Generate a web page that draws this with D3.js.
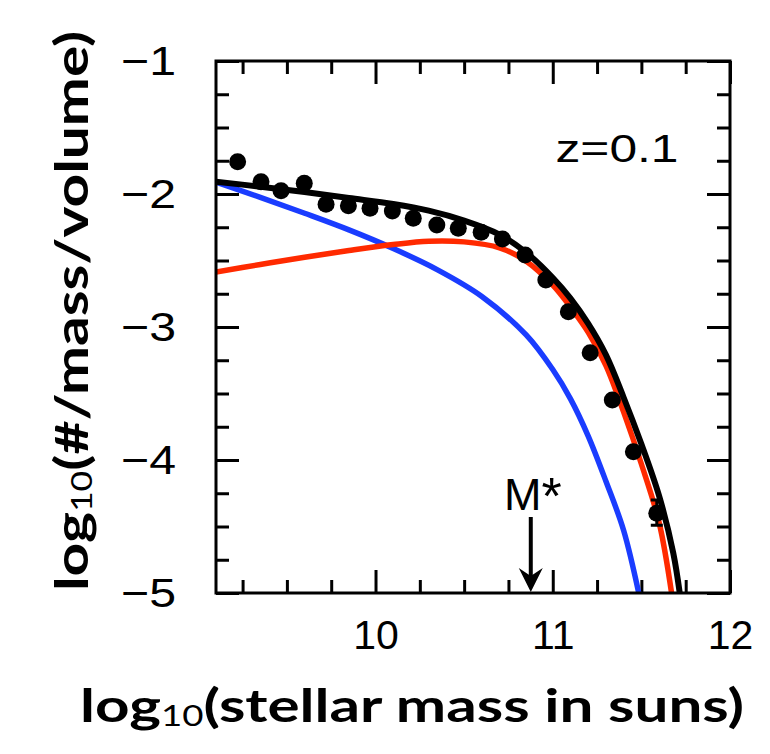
<!DOCTYPE html>
<html><head><meta charset="utf-8">
<script src="https://cdn.jsdelivr.net/npm/d3@7"></script>
<style>html,body{margin:0;padding:0;background:#fff;}svg{display:block;}</style>
</head><body>
<script>
// ---- data ----
const pointX = [9.222,9.354,9.467,9.598,9.721,9.847,9.969,10.095,10.213,10.346,10.467,10.596,10.716,10.844,10.961,11.088,11.211,11.336,11.455,11.587];
const pointY = [-1.757,-1.908,-1.975,-1.920,-2.077,-2.088,-2.108,-2.128,-2.183,-2.233,-2.258,-2.288,-2.338,-2.459,-2.647,-2.885,-3.193,-3.549,-3.938,-4.401];
const lastErr = [-4.30,-4.49];

const blueX = [9.1,9.35,9.6,9.85,10.1,10.35,10.6,10.85,11.0,11.1,11.2,11.3,11.4,11.49];
const blueY = [-1.910,-2.025,-2.145,-2.270,-2.410,-2.570,-2.770,-3.060,-3.320,-3.540,-3.820,-4.160,-4.530,-5.030];

const redX = [9.1,9.35,9.6,9.85,10.1,10.3,10.5,10.7,10.85,11.0,11.1,11.2,11.3,11.4,11.5,11.6,11.672];
const redY = [-2.586,-2.530,-2.475,-2.425,-2.380,-2.355,-2.360,-2.405,-2.505,-2.685,-2.850,-3.040,-3.290,-3.640,-4.030,-4.470,-5.015];

const blackX = [9.1,9.35,9.6,9.85,10.1,10.3,10.5,10.7,10.85,11.0,11.1,11.2,11.3,11.4,11.5,11.6,11.68,11.718];
const blackY = [-1.907,-1.945,-1.985,-2.030,-2.075,-2.125,-2.200,-2.305,-2.440,-2.630,-2.785,-2.975,-3.210,-3.530,-3.880,-4.270,-4.700,-5.015];

const xMajor = [10,11,12];
const xMajorLabels = ["10","11","12"];
const yMajor = [-1,-2,-3,-4,-5];
const yMajorLabels = ["\u22121","\u22122","\u22123","\u22124","\u22125"];
const mStar = 10.876;
const zLabel = "z=0.1";

// ---- drawing ----
const W = 770, H = 754;
const svg = d3.select("body").append("svg").attr("width", W).attr("height", H);
svg.append("rect").attr("width", W).attr("height", H).attr("fill", "#fff");

const L = 216, R = 730, T = 61, B = 593;
const x = d3.scaleLinear().domain([9.1, 12]).range([L, R]);
const y = d3.scaleLinear().domain([-5, -1]).range([B, T]);

svg.append("clipPath").attr("id", "clip").append("rect")
  .attr("x", L).attr("y", T).attr("width", R - L).attr("height", B - T);

const xMinor = d3.range(9.25, 12.001, 0.25).filter(v => Math.abs(v - Math.round(v)) > 1e-6);
const yMinor = d3.range(-4.75, -1.001, 0.25).filter(v => Math.abs(v - Math.round(v)) > 1e-6);

function styleAxis(g) {
  g.select(".domain").remove();
  g.selectAll(".tick line").attr("stroke", "#000").attr("stroke-width", 3);
}
const tickFont = "'Liberation Sans', Arial, sans-serif";
const minorLen = 13, majorLen = 23;
// bottom
svg.append("g").attr("transform", `translate(0,${B})`)
  .call(d3.axisBottom(x).tickValues(xMinor).tickSize(-minorLen).tickFormat("")).call(styleAxis);
const gb = svg.append("g").attr("transform", `translate(0,${B})`)
  .call(d3.axisBottom(x).tickValues(xMajor).tickSize(-majorLen).tickPadding(27).tickFormat((d, i) => xMajorLabels[i]));
styleAxis(gb);
gb.selectAll("text").attr("font-family", tickFont).attr("font-size", 41).attr("fill", "#000");
// top
svg.append("g").attr("transform", `translate(0,${T})`)
  .call(d3.axisTop(x).tickValues(xMinor).tickSize(-minorLen).tickFormat("")).call(styleAxis);
svg.append("g").attr("transform", `translate(0,${T})`)
  .call(d3.axisTop(x).tickValues(xMajor).tickSize(-majorLen).tickFormat("")).call(styleAxis);
// left
svg.append("g").attr("transform", `translate(${L},0)`)
  .call(d3.axisLeft(y).tickValues(yMinor).tickSize(-minorLen).tickFormat("")).call(styleAxis);
const gl = svg.append("g").attr("transform", `translate(${L},0)`)
  .call(d3.axisLeft(y).tickValues(yMajor).tickSize(-majorLen).tickPadding(40).tickFormat((d, i) => yMajorLabels[i]));
styleAxis(gl);
gl.selectAll("text").attr("font-family", tickFont).attr("font-size", 41).attr("fill", "#000")
  .attr("textLength", 55).attr("lengthAdjust", "spacingAndGlyphs");
// right
svg.append("g").attr("transform", `translate(${R},0)`)
  .call(d3.axisRight(y).tickValues(yMinor).tickSize(-minorLen).tickFormat("")).call(styleAxis);
svg.append("g").attr("transform", `translate(${R},0)`)
  .call(d3.axisRight(y).tickValues(yMajor).tickSize(-majorLen).tickFormat("")).call(styleAxis);

// curves
const plot = svg.append("g").attr("clip-path", "url(#clip)");
const line = d3.line().x(d => x(d[0])).y(d => y(d[1])).curve(d3.curveCatmullRom.alpha(0.5));
plot.append("path").datum(d3.zip(blueX, blueY)).attr("d", line)
  .attr("fill", "none").attr("stroke", "#1a3cff").attr("stroke-width", 5.5);
plot.append("path").datum(d3.zip(redX, redY)).attr("d", line)
  .attr("fill", "none").attr("stroke", "#ff2a00").attr("stroke-width", 5.5);
plot.append("path").datum(d3.zip(blackX, blackY)).attr("d", line)
  .attr("fill", "none").attr("stroke", "#000").attr("stroke-width", 6);

// error bar on last point
const lx = pointX[pointX.length - 1];
plot.append("path")
  .attr("d", `M${x(lx)},${y(lastErr[0])}V${y(lastErr[1])}M${x(lx)-6},${y(lastErr[0])}H${x(lx)+6}M${x(lx)-6},${y(lastErr[1])}H${x(lx)+6}`)
  .attr("stroke", "#000").attr("stroke-width", 3).attr("fill", "none");

plot.selectAll("circle.pt").data(d3.zip(pointX, pointY)).join("circle")
  .attr("class", "pt").attr("cx", d => x(d[0])).attr("cy", d => y(d[1])).attr("r", 8.5).attr("fill", "#000");

// frame
svg.append("rect").attr("x", L).attr("y", T).attr("width", R - L).attr("height", B - T)
  .attr("fill", "none").attr("stroke", "#000").attr("stroke-width", 3);

// z label
svg.append("text").attr("x", 617).attr("y", 162).attr("text-anchor", "middle")
  .attr("font-family", tickFont).attr("font-size", 39)
  .attr("textLength", 123).attr("lengthAdjust", "spacingAndGlyphs").text(zLabel);

// M* arrow
const mx = x(mStar);
const mt = svg.append("text").attr("x", mx + 2).attr("y", 510).attr("text-anchor", "middle")
  .attr("font-family", tickFont).attr("font-size", 45);
mt.append("tspan").text("M");
mt.append("tspan").attr("font-size", 52).attr("dy", 4).text("*");
svg.append("line").attr("x1", mx).attr("x2", mx).attr("y1", 517).attr("y2", 578)
  .attr("stroke", "#000").attr("stroke-width", 4);
svg.append("path").attr("d", `M${mx},${B - 1}L${mx - 12},${B - 25}L${mx},${B - 17}L${mx + 12},${B - 25}Z`).attr("fill", "#000");

// axis titles
const titleFont = "'Comic Sans MS', 'Lato', 'Open Sans', sans-serif";
const xt = svg.append("text").attr("x", 412).attr("y", 722).attr("text-anchor", "middle")
  .attr("font-family", titleFont).attr("font-weight", "bold").attr("font-size", 46)
  .attr("textLength", 664).attr("lengthAdjust", "spacingAndGlyphs");
xt.append("tspan").text("log");
xt.append("tspan").attr("font-size", 28).attr("font-weight", "normal").attr("dy", 4).text("10");
xt.append("tspan").attr("dy", -4).text("(stellar mass in suns)");

const yt = svg.append("text").attr("transform", "translate(88,311) rotate(-90)").attr("text-anchor", "middle")
  .attr("font-family", titleFont).attr("font-weight", "bold").attr("font-size", 46)
  .attr("textLength", 560).attr("lengthAdjust", "spacingAndGlyphs");
yt.append("tspan").text("log");
yt.append("tspan").attr("font-size", 28).attr("font-weight", "normal").attr("dy", 4).text("10");
yt.append("tspan").attr("dy", -4).text("(#/mass/volume)");
</script>
</body></html>
